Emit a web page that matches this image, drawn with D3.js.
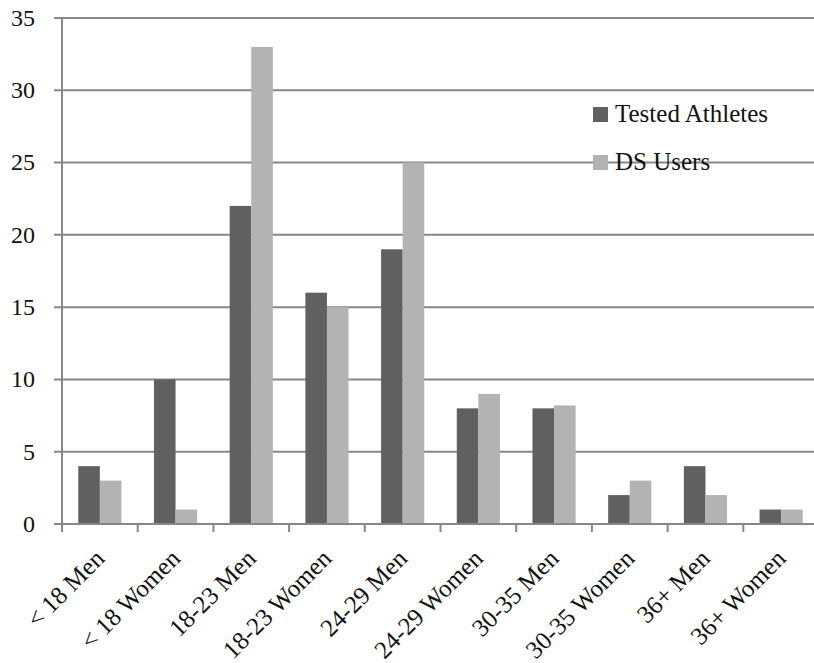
<!DOCTYPE html>
<html>
<head>
<meta charset="utf-8">
<script src="https://cdn.jsdelivr.net/npm/d3@7"></script>
<style>
  html, body { margin: 0; padding: 0; background: #fff; overflow: hidden; }
  svg { display: block; }
</style>
</head>
<body>
<svg id="chart" width="814" height="663"></svg>
<script>
// Participants by age group and sex
const categories = ["< 18 Men", "< 18 Women", "18-23 Men", "18-23 Women", "24-29 Men",
                    "24-29 Women", "30-35 Men", "30-35 Women", "36+ Men", "36+ Women"];
const seriesNames = ["Tested Athletes", "DS Users"];
const testedAthletes = [4, 10, 22, 16, 19, 8, 8, 2, 4, 1];
const dsUsers = [3, 1, 33, 15, 25, 9, 8.2, 3, 2, 1];
const yTicks = [0, 5, 10, 15, 20, 25, 30, 35];
const colors = ["#606060", "#b3b3b3"];
const FONT = "'Liberation Serif'";

const svg = d3.select("#chart");
const margin = { left: 62, top: 18 };
const innerW = 757;   // plot area runs past the right edge of the canvas
const innerH = 506;

const g = svg.append("g").attr("transform", `translate(${margin.left},${margin.top})`);

const x = d3.scaleBand().domain(categories).range([0, innerW]).paddingInner(0.43).paddingOuter(0.215);
const xs = d3.scaleBand().domain(seriesNames).range([0, x.bandwidth()]);
const y = d3.scaleLinear().domain([0, 35]).range([innerH, 0]);
const step = innerW / categories.length;

// horizontal gridlines with outward ticks
g.append("g").selectAll("line").data(yTicks).join("line")
  .attr("x1", -8).attr("x2", innerW)
  .attr("y1", d => y(d)).attr("y2", d => y(d))
  .attr("stroke", "#878787").attr("stroke-width", 2);

// y tick labels
g.append("g").selectAll("text").data(yTicks).join("text")
  .attr("x", -27).attr("y", d => y(d)).attr("dy", "0.33em")
  .attr("text-anchor", "end").attr("font-size", 24).attr("fill", "#111")
  .style("font-family", FONT)
  .text(d => d);

// bars
const series = [testedAthletes, dsUsers];
const groups = g.append("g").selectAll("g").data(categories).join("g")
  .attr("transform", d => `translate(${x(d)},0)`);
groups.selectAll("rect").data((d, i) => seriesNames.map((s, k) => ({ s, v: series[k][i], k })))
  .join("rect")
  .attr("x", d => xs(d.s))
  .attr("width", xs.bandwidth())
  .attr("y", d => y(d.v))
  .attr("height", d => y(0) - y(d.v))
  .attr("fill", d => colors[d.k]);

// y axis line
g.append("line").attr("x1", 0).attr("x2", 0).attr("y1", 0).attr("y2", innerH + 8)
  .attr("stroke", "#878787").attr("stroke-width", 2);

// x axis baseline and category tick marks
g.append("line").attr("x1", -8).attr("x2", innerW).attr("y1", innerH).attr("y2", innerH)
  .attr("stroke", "#878787").attr("stroke-width", 2);
g.append("g").selectAll("line").data(d3.range(1, categories.length + 1)).join("line")
  .attr("x1", d => d * step).attr("x2", d => d * step)
  .attr("y1", innerH).attr("y2", innerH + 8)
  .attr("stroke", "#878787").attr("stroke-width", 2);

// rotated category labels
g.append("g").selectAll("text").data(categories).join("text")
  .attr("text-anchor", "end").attr("font-size", 25).attr("fill", "#111")
  .style("font-family", FONT)
  .attr("transform", d => `translate(${x(d) + x.bandwidth() / 2 + 6},${innerH + 36}) rotate(-45)`)
  .text(d => d);

// legend
const legend = svg.append("g").attr("transform", "translate(593,107)");
legend.selectAll("rect").data(seriesNames).join("rect")
  .attr("x", 0).attr("y", (d, i) => i * 48).attr("width", 15).attr("height", 15)
  .attr("fill", (d, i) => colors[i]);
legend.selectAll("text").data(seriesNames).join("text")
  .attr("x", 22).attr("y", (d, i) => i * 48 + 15).attr("font-size", 25).attr("fill", "#111")
  .style("font-family", FONT)
  .text(d => d);
</script>
</body>
</html>
